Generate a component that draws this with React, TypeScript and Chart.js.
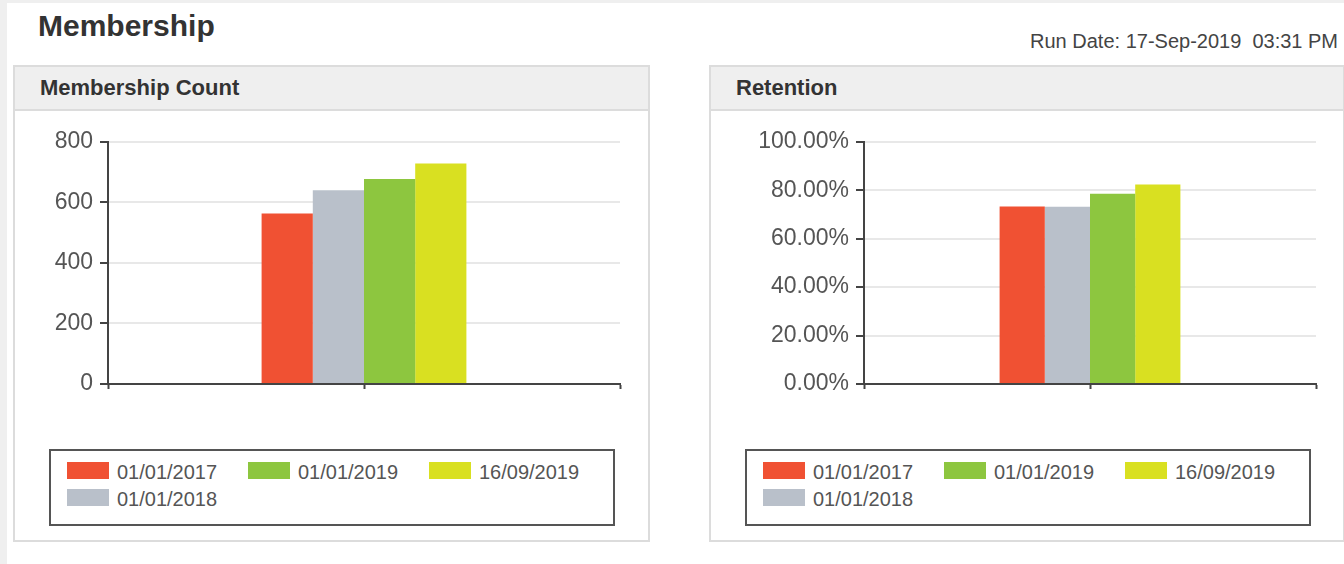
import React, { useEffect, useRef } from 'react';
import { Chart, registerables } from 'chart.js';

Chart.register(...registerables);

// ---- data ----
const seriesLabels = ['01/01/2017', '01/01/2018', '01/01/2019', '16/09/2019'];
const seriesColors = ['#f05133', '#b9c0ca', '#8dc63f', '#d9e021'];
const xSlots = ['', '', '']; // category slots; bars sit on the middle slot
const barSlot = 1;
const membershipCount = [563, 640, 677, 728];
const retentionPct = [73.3, 73.2, 78.6, 82.4];
const countAxis = { min: 0, max: 800, step: 200 };
const retentionAxis = { min: 0, max: 100, step: 20 };
const legendColumns = [[0, 1], [2], [3]]; // legend is laid out column-first

const FONT = '"Liberation Sans", Arial, sans-serif';

type ChartProps = {
  values: number[];
  axis: { min: number; max: number; step: number };
  fmt: (v: number) => string;
  yWidth: number;
  left: number;
};

function BarChart({ values, axis, fmt, yWidth, left }: ChartProps) {
  const ref = useRef<HTMLCanvasElement | null>(null);
  useEffect(() => {
    if (!ref.current) return;
    const datasets = seriesLabels.map((lab, i) => ({
      label: lab,
      data: xSlots.map((_, j) => (j === barSlot ? values[i] : null)),
      backgroundColor: seriesColors[i],
      borderWidth: 0,
      categoryPercentage: 0.8,
      barPercentage: 1,
    }));
    const chart = new Chart(ref.current, {
      type: 'bar',
      data: { labels: xSlots, datasets },
      options: {
        animation: false,
        responsive: false,
        maintainAspectRatio: false,
        layout: { padding: { top: 16, right: 10, left: 0, bottom: 0 } },
        plugins: { legend: { display: false }, tooltip: { enabled: false } },
        scales: {
          x: {
            offset: false,
            grid: { offset: false, drawOnChartArea: false, drawTicks: true, tickLength: 5, tickColor: '#444', tickWidth: 2 },
            border: { color: '#444', width: 2 },
            ticks: { display: false },
            afterFit: (s: any) => { s.height = 21; },
          },
          y: {
            min: axis.min,
            max: axis.max,
            ticks: {
              stepSize: axis.step,
              callback: (v: any) => fmt(Number(v)),
              color: '#555',
              font: { family: FONT, size: 23 },
              padding: 7,
            },
            grid: { color: '#e8e8e8', lineWidth: 2, tickLength: 8, tickColor: '#444', tickWidth: 2 },
            border: { color: '#444', width: 2 },
            afterFit: (s: any) => { s.width = yWidth; },
          },
        },
      } as any,
    });
    return () => chart.destroy();
  }, []);
  return (
    <canvas
      ref={ref}
      width={610}
      height={284}
      style={{ position: 'absolute', left, top: 121, width: 610, height: 284 }}
    />
  );
}

function Legend({ left }: { left: number }) {
  const colX = [18, 199, 380];
  const items: React.ReactNode[] = [];
  legendColumns.forEach((col, c) => {
    col.forEach((si, r) => {
      const top = 13 + r * 27;
      items.push(
        <div key={si}>
          <div style={{ position: 'absolute', left: colX[c] - 2, top: top - 2, width: 42, height: 17, background: seriesColors[si] }} />
          <div style={{ position: 'absolute', left: colX[c] + 50 - 2, top: top - 2, fontSize: 20, lineHeight: '20px', color: '#555', whiteSpace: 'nowrap' }}>
            {seriesLabels[si]}
          </div>
        </div>
      );
    });
  });
  return (
    <div style={{ position: 'absolute', left, top: 449, width: 566, height: 77, border: '2px solid #555', boxSizing: 'border-box', background: '#fff' }}>
      {items}
    </div>
  );
}

function Panel({ left, width, title }: { left: number; width: number; title: string }) {
  return (
    <div style={{ position: 'absolute', left, top: 65, width, height: 477, border: '2px solid #dcdcdc', boxSizing: 'border-box', background: '#fff' }}>
      <div style={{ height: 42, background: '#efefef', borderBottom: '2px solid #dcdcdc' }} />
      <div style={{ position: 'absolute', left: 25, top: 10, fontSize: 22, lineHeight: '22px', fontWeight: 'bold', color: '#333', whiteSpace: 'nowrap' }}>
        {title}
      </div>
    </div>
  );
}

export default function App() {
  return (
    <div style={{ position: 'fixed', left: 0, top: 0, width: 1344, height: 564, background: '#efefef', overflow: 'hidden', fontFamily: FONT }}>
      <div style={{ position: 'absolute', left: 7, top: 3, right: 0, bottom: 0, background: '#fff' }} />
      <div style={{ position: 'absolute', left: 38, top: 11, fontSize: 30, lineHeight: '30px', fontWeight: 'bold', color: '#333' }}>Membership</div>
      <div style={{ position: 'absolute', right: 6, top: 31, fontSize: 20, lineHeight: '20px', color: '#444', whiteSpace: 'pre' }}>
        {'Run Date: 17-Sep-2019  03:31 PM'}
      </div>
      <Panel left={13} width={637} title="Membership Count" />
      <Panel left={709} width={636} title="Retention" />
      <BarChart values={membershipCount} axis={countAxis} fmt={(v) => String(v)} yWidth={88} left={20} />
      <BarChart values={retentionPct} axis={retentionAxis} fmt={(v) => v.toFixed(2) + '%'} yWidth={148} left={716} />
      <Legend left={49} />
      <Legend left={745} />
    </div>
  );
}
